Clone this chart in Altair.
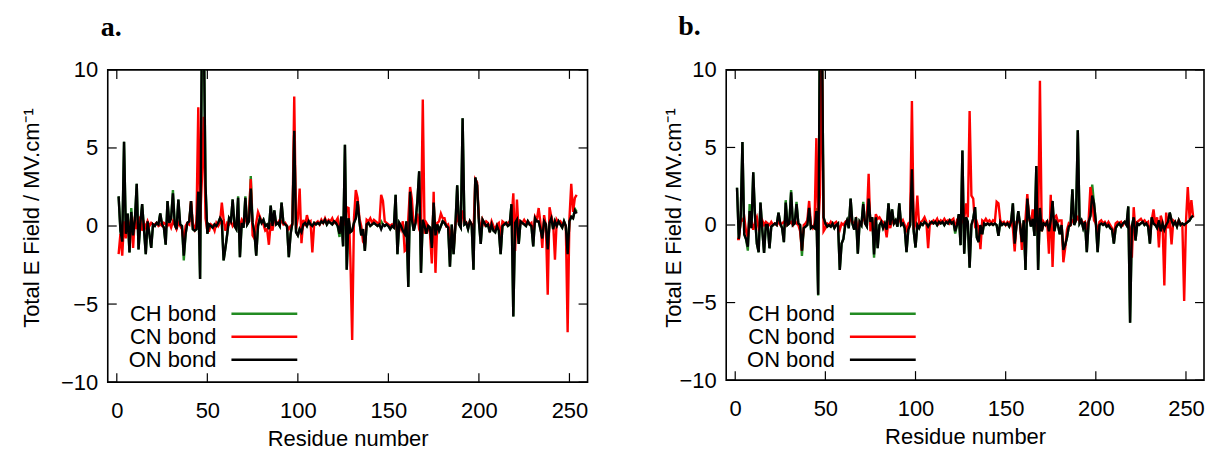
import altair as alt
import pandas as pd

residues = list(range(1, 255))
series_names = ["CH bond", "CN bond", "ON bond"]
series_colors = ["#228B22", "#FF0000", "#000000"]
x_ticks = [0, 50, 100, 150, 200, 250]
y_ticks = [-10, -5, 0, 5, 10]

a_ch = [1.9, -0.3, -1.0, 5.4, -0.5, 0.8, -1.7, 1.15, -0.6, 0.4,
        2.7, -1.5, 0.2, 1.4, -0.2, -1.8, 0.3, -0.5, -1.4, 0.1,
        0.0, 0.2, 0.1, 0.8, 0.1, -0.1, -1.2, 1.6, 0.2, 0.5,
        2.3, 0.1, -0.2, 1.7, 0.1, 0.0, -2.2, -0.5, 0.2, 0.3,
        1.6, -0.2, -0.3, -0.2, 2.2, -3.4, 11.0, 14.0, 2.6, -0.5,
        0.1, 0.0, -0.1, 0.1, 0.0, 0.2, 0.5, 0.3, -2.2, -1.4,
        -0.5, 0.5, 0.3, 1.7, 0.0, -0.2, 1.9, -2.0, 0.2, -0.1,
        1.9, 0.1, 0.3, 3.2, 0.2, -0.4, -1.9, 0.0, 0.5, 0.2,
        0.4, 0.0, 0.1, -0.2, 1.3, 0.0, 1.0, 0.1, 0.2, 0.0,
        1.5, 0.2, 0.1, 0.0, -2.0, -0.5, 0.2, 6.1, -0.4, -0.6,
        -0.2, -0.4, 0.1, 0.2, 0.0, 0.3, 0.1, 0.0, 0.2, 0.1,
        0.2, 0.1, 0.3, 0.2, 0.4, 0.1, 0.3, 0.2, 0.1, 0.3,
        0.2, 0.0, -0.7, 0.6, -1.3, 5.2, -2.8, 0.5, -0.4, -0.3,
        0.2, 0.5, 1.6, 0.3, -0.6, -0.2, -1.6, 0.1, 0.2, 0.0,
        0.1, 0.2, 0.1, 0.0, 0.1, 0.3, 0.1, 0.0, 0.1, 0.0,
        -0.2, 0.0, -0.1, 2.0, -1.8, 0.2, 0.0, -0.3, -0.5, 0.3,
        -3.9, 2.2, 0.4, -0.3, 0.2, 1.6, 3.5, -3.0, 0.4, 0.0,
        -0.5, 0.0, -0.1, -1.4, 1.5, -0.6, 0.1, -0.3, 0.0, 0.3,
        0.2, 0.0, -0.1, -2.6, 0.1, -1.8, 0.0, 2.6, 0.1, -0.1,
        6.9, 0.1, 0.2, -0.2, 0.3, 0.1, -2.8, 3.1, 2.6, 0.3,
        -1.15, 0.4, 0.2, 0.0, 0.1, -0.4, 0.1, -0.3, -0.4, 0.0,
        -0.3, -1.8, 0.0, 0.1, 0.2, 0.0, 0.1, 1.4, -5.8, 0.2,
        0.4, -1.15, 0.3, 0.2, 0.1, 0.0, 0.3, 0.1, 0.0, -1.3,
        0.5, 0.3, 0.3, -0.2, -0.8, 0.3, 0.1, -1.5, 0.2, 0.5,
        -0.2, 0.3, 0.0, 0.3, 0.1, -0.1, 0.3, 0.0, -1.8, 0.3,
        0.6, 0.5, 1.1, 0.9]

a_cn = [-1.8, -0.5, -1.9, 0.3, -0.8, 0.4, -0.4, 0.5, -1.4, 0.6,
        -0.2, 0.3, 0.6, -0.3, 0.2, -0.1, 0.3, 0.0, 0.2, 0.1,
        0.1, 0.2, 0.0, 0.1, 0.0, 0.2, 0.1, 0.0, 0.2, -0.1,
        0.3, 0.1, -0.2, 0.2, 0.0, -0.2, -1.0, 0.0, 0.2, 0.1,
        1.6, 0.1, -0.2, 0.3, 7.6, 0.2, 3.0, 7.0, 0.5, -0.3,
        -0.3, 0.1, 0.0, -0.3, 0.2, 0.0, 0.2, 1.5, 0.4, -0.3,
        0.2, 0.1, 0.3, 0.0, 0.2, 0.1, 0.2, 0.0, 0.4, 0.2,
        0.6, 0.1, 0.8, 3.0, -0.6, -0.8, 0.2, 0.9, 0.6, 0.3,
        0.1, -0.3, -0.2, -1.2, 0.2, -0.3, 0.5, 0.2, 0.2, 0.4,
        0.3, 0.1, 0.2, 0.0, -0.2, 0.0, 0.1, 8.3, -0.2, 0.5,
        2.4, -1.1, 0.4, 0.0, 0.7, 0.2, 0.3, -1.7, 0.1, 0.2,
        0.3, 0.1, 0.4, 0.2, 0.5, 0.2, 0.4, 0.3, 0.5, 0.2,
        0.3, 0.5, -0.4, 0.3, 0.2, 0.1, 1.2, 1.15, -2.0, -7.3,
        0.5, 2.3, 1.8, 0.5, 0.0, -1.0, -1.2, 0.4, 0.3, 0.5,
        0.2, 0.4, 0.3, 0.2, 0.1, 2.0, 1.6, 0.3, 0.2, 0.1,
        0.0, 0.1, 0.0, 0.3, -0.5, 0.2, -0.2, 0.3, -1.6, -1.5,
        0.5, 2.5, 1.7, -0.1, 0.3, 0.8, -0.2, -0.5, 8.1, -0.5,
        0.2, 0.0, -0.5, -2.4, 2.2, -3.0, 0.2, 0.3, 0.8, 0.5,
        0.5, 0.0, 0.1, -0.4, -1.3, -1.4, 0.1, 0.6, 0.2, 0.0,
        1.0, 0.4, 0.2, 0.0, 0.3, 0.1, -0.5, 3.0, 2.8, 0.5,
        -0.3, 0.4, 0.1, 0.3, 0.2, -0.2, 0.3, 0.0, -0.2, 0.1,
        0.2, -0.7, 0.3, 0.2, 0.1, 0.2, 0.3, 0.4, 2.1, -1.6,
        1.7, -0.5, 0.3, 0.2, 0.4, 0.2, 0.3, 0.1, 0.2, -0.6,
        0.6, 0.4, 1.15, 0.2, -1.4, 0.7, 0.0, -4.4, 1.2, 0.6,
        0.2, -2.15, 0.4, 0.2, 0.3, 0.1, 0.2, 0.0, -6.8, 0.5,
        2.7, 0.9, 1.8, 2.0]

a_on = [1.9, -0.3, -1.0, 5.4, -0.5, 0.8, -1.7, 0.9, -0.6, 0.4,
        2.7, -1.5, 0.2, 1.4, -0.2, -1.8, 0.3, -0.5, -1.4, 0.1,
        0.0, 0.2, 0.1, 0.8, 0.1, -0.1, -1.2, 1.6, 0.2, 0.5,
        2.1, 0.1, -0.2, 1.7, 0.1, 0.0, -1.9, -0.5, 0.2, 0.3,
        1.6, -0.2, -0.3, -0.2, 2.2, -3.4, 13.0, 13.0, 2.6, -0.5,
        0.1, 0.0, -0.1, 0.1, 0.0, 0.2, 0.5, 0.3, -2.2, -1.4,
        -0.5, 0.5, 0.3, 1.7, 0.0, -0.2, 1.8, -2.0, 0.2, -0.1,
        1.8, 0.1, 0.3, 2.4, 0.2, -0.4, -1.9, 0.0, 0.5, 0.2,
        0.4, 0.0, 0.1, -0.2, 1.3, 0.0, 1.0, 0.1, 0.2, 0.0,
        1.5, 0.2, 0.1, 0.0, -2.0, -0.5, 0.2, 6.1, -0.4, -0.6,
        -0.2, -0.4, 0.1, 0.2, 0.0, 0.3, 0.1, 0.0, 0.2, 0.1,
        0.2, 0.1, 0.3, 0.2, 0.4, 0.1, 0.3, 0.2, 0.1, 0.3,
        0.2, 0.0, -0.5, 0.6, -1.3, 5.2, -2.8, 0.5, -0.4, -0.3,
        0.2, 0.5, 1.6, 0.3, -0.6, -0.2, -1.6, 0.1, 0.2, 0.0,
        0.1, 0.2, 0.1, 0.0, 0.1, -0.2, 0.1, 0.0, 0.1, 0.0,
        -0.2, 0.0, -0.1, 2.0, -1.8, 0.2, 0.0, -0.3, -0.5, 0.3,
        -3.9, 2.2, 0.4, -0.3, 0.2, 1.6, 3.5, -3.0, 0.4, 0.0,
        -0.5, 0.0, -0.1, -1.4, 1.5, -0.6, 0.1, -0.3, 0.0, 0.3,
        0.2, 0.0, -0.1, -2.6, 0.1, -1.8, 0.0, 2.6, 0.1, -0.1,
        6.9, 0.1, 0.2, -0.2, 0.3, 0.1, -2.8, 3.1, 2.6, 0.3,
        -1.15, 0.4, 0.2, 0.0, 0.1, -0.4, 0.1, -0.3, -0.4, 0.0,
        -0.3, -1.8, 0.0, 0.1, 0.2, 0.0, 0.1, 1.4, -5.8, 0.2,
        0.4, -1.15, 0.3, 0.2, 0.1, 0.0, 0.3, 0.1, 0.0, -1.3,
        0.5, 0.3, 0.3, -0.2, -0.8, 0.3, 0.1, -1.5, 0.2, 0.5,
        -0.2, 0.3, 0.0, 0.3, 0.1, -0.1, 0.3, 0.0, -1.8, 0.3,
        0.6, 0.5, 1.0, 0.8]

b_ch = [2.4, -0.9, 0.3, 5.35, -0.6, -0.9, -1.65, 1.35, -0.2, 3.4,
        0.5, -1.2, -1.75, 1.45, -0.3, -1.8, 0.0, 0.0, -1.5, -0.1,
        0.0, 0.1, 0.0, 0.8, 0.1, -0.2, -1.1, 1.6, 0.0, 0.1,
        2.25, 0.0, 0.1, 1.5, 0.1, 0.0, -2.0, -0.2, -0.1, 0.0,
        1.1, -0.2, -0.1, -0.2, 1.1, -4.55, 14.0, 14.0, 0.5, 0.1,
        -0.1, 0.0, -0.1, 0.1, -0.2, 0.0, 0.1, -2.9, -1.2, -0.9,
        0.0, 0.3, -0.2, 1.7, 0.1, -0.3, 0.5, -1.85, 0.2, 0.0,
        1.5, 0.1, -0.1, 1.8, 0.2, 0.5, -2.1, 0.5, -1.5, 0.0,
        0.2, -0.2, 0.1, -0.3, 1.4, 0.0, 1.0, 0.1, 0.3, -0.1,
        1.4, 0.0, 0.1, -0.2, -1.75, -0.3, 0.0, 3.6, -0.4, -1.45,
        0.0, -0.2, 0.1, 0.0, 0.2, 0.1, -0.1, 0.1, 0.2, 0.1,
        0.2, 0.0, 0.2, 0.1, 0.2, 0.0, 0.2, 0.1, 0.3, 0.1,
        0.2, -0.55, 0.0, 0.7, -1.3, 4.8, -1.85, 0.5, 0.2, -2.75,
        0.0, 0.4, 1.15, -0.8, -1.1, 0.0, -0.6, 0.1, 0.0, 0.1,
        0.0, 0.1, 0.0, 0.1, 0.0, -0.7, 0.2, 0.0, 0.1, 0.0,
        0.1, -0.1, 0.2, 1.4, -1.2, 0.0, 0.9, 0.0, -1.1, 0.3,
        -2.9, 1.7, 0.5, -0.1, 0.4, -0.7, 3.8, -2.9, 1.1, -0.4,
        0.1, 0.0, 0.2, -0.4, 0.3, 1.55, -0.4, 0.2, 0.0, -0.6,
        0.0, -1.6, -1.3, -0.8, -0.1, 0.0, 2.3, 0.0, 0.3, 6.1,
        0.1, 0.3, -0.2, 0.2, -1.75, 0.2, 0.6, 2.6, 1.4, 0.2,
        -1.75, 0.0, 0.1, 0.0, 0.1, -0.1, 0.0, -0.2, -0.3, -1.2,
        -0.2, 0.0, 0.1, -0.1, 0.1, 0.2, 0.0, 1.2, -6.3, -0.1,
        0.5, -1.0, 0.1, 0.0, 0.1, 0.2, 0.0, 0.1, -0.1, -1.2,
        0.5, 0.1, 0.0, -0.2, 0.3, -0.4, 0.1, -0.3, 0.0, 0.2,
        0.8, 0.3, 0.0, 0.2, -0.1, 0.3, 0.0, 0.1, 0.0, 0.1,
        0.2, 0.3, 0.5, 0.6]

b_cn = [-0.9, -0.9, 0.2, 0.3, 0.5, -0.4, -0.8, 0.6, 0.2, -0.3,
        0.2, 0.5, -0.2, 0.1, 0.3, 0.0, 0.2, 0.1, 0.0, 0.2,
        0.0, 0.1, 0.0, 0.2, 0.0, 0.1, 0.2, 0.0, 0.3, 0.1,
        0.2, 0.0, 0.3, 0.1, 0.0, -0.4, -1.65, 0.0, 0.1, 0.3,
        1.55, 0.0, -0.2, 0.1, 5.6, -0.3, 2.0, 12.0, -0.4, -0.2,
        0.1, 0.0, 0.2, 0.0, 0.1, 0.2, 0.0, -0.3, 0.1, 0.0,
        0.2, 0.3, 0.1, 0.5, 0.2, 0.0, 0.3, -0.5, 0.2, 0.1,
        0.6, 0.2, 0.4, 3.3, -0.4, 0.3, -0.5, 0.7, 0.4, 0.5,
        0.3, 0.2, 0.0, -0.8, 0.3, -0.2, 0.4, 0.1, 0.3, 0.2,
        0.4, 0.1, 0.3, 0.0, -0.3, 0.1, 0.2, 8.0, -0.3, 0.1,
        1.9, 0.0, 0.2, 0.3, 0.5, 0.2, -1.5, 0.2, 0.1, 0.3,
        0.2, 0.4, 0.1, 0.3, 0.2, 0.4, 0.2, 0.3, 0.1, 0.3,
        0.4, -0.2, 0.3, 0.2, 0.0, 0.3, 0.4, 1.4, 0.5, 7.35,
        1.9, 1.7, 0.0, 0.2, -0.2, -1.55, 0.3, 0.2, 0.4, 0.2,
        0.3, 0.1, 0.3, 0.2, 1.5, 1.4, 0.3, 0.1, 0.2, 0.0,
        0.2, 0.1, 0.3, -0.2, -1.7, 0.2, 0.3, 0.1, -1.6, 0.0,
        0.4, 2.0, 0.4, 0.1, 1.0, 0.3, 0.1, -0.5, 9.3, -0.4,
        0.2, 0.0, 0.3, -1.85, 1.95, -2.7, 0.5, 0.6, 0.2, 0.3,
        0.3, -2.4, -1.5, -0.3, 0.1, 0.0, 0.3, 0.2, 0.3, 0.5,
        0.2, 0.3, 0.1, 0.2, -0.3, 0.3, 2.45, 1.5, 0.3, 0.1,
        -0.5, 0.2, 0.3, 0.1, 0.2, 0.0, 0.2, 0.0, -0.2, -0.6,
        0.1, 0.2, 0.1, 0.2, 0.0, 0.2, 0.1, 0.3, -0.3, -2.1,
        1.15, -0.4, 0.2, 0.3, 0.4, 0.2, 0.3, 0.1, 0.2, -0.6,
        0.3, 1.0, 0.0, 0.5, -1.45, 0.6, 0.2, -3.9, 0.8, -0.2,
        0.3, -1.25, 0.3, 0.2, 0.0, 0.3, 0.1, 0.0, -4.9, 0.2,
        2.45, 0.4, 1.6, 0.5]

b_on = [2.4, -0.9, 0.3, 5.35, -0.6, -0.9, -1.4, 0.9, -0.2, 3.4,
        0.5, -1.2, -1.75, 1.45, -0.3, -1.8, 0.0, 0.0, -1.5, -0.1,
        0.0, 0.1, 0.0, 0.8, 0.1, -0.2, -1.1, 1.45, 0.0, 0.1,
        2.1, 0.0, 0.1, 1.35, 0.1, 0.0, -1.65, -0.2, -0.1, 0.0,
        1.1, -0.2, -0.1, -0.2, 0.9, -4.5, 14.0, 14.0, 0.5, 0.1,
        -0.1, 0.0, -0.1, 0.1, -0.2, 0.0, 0.1, -2.9, -1.2, -0.9,
        0.0, 0.3, -0.2, 1.7, 0.1, -0.3, 0.5, -1.85, 0.2, 0.0,
        1.35, 0.1, -0.1, 1.7, 0.2, 0.5, -1.9, 0.5, -1.5, 0.0,
        0.2, -0.2, 0.1, -0.3, 1.4, 0.0, 1.0, 0.1, 0.3, -0.1,
        1.4, 0.0, 0.1, -0.2, -1.75, -0.3, 0.0, 3.6, -0.4, -1.45,
        0.0, -0.2, 0.1, 0.0, 0.2, 0.1, -0.1, 0.1, 0.2, 0.1,
        0.2, 0.0, 0.2, 0.1, 0.2, 0.0, 0.2, 0.1, 0.3, 0.1,
        0.2, -0.4, 0.0, 0.7, -1.3, 4.8, -1.85, 0.5, 0.2, -2.75,
        0.0, 0.4, 1.15, -0.8, -1.1, 0.0, -0.6, 0.1, 0.0, 0.1,
        0.0, 0.1, 0.0, 0.1, 0.0, -0.7, 0.2, 0.0, 0.1, 0.0,
        0.1, -0.1, 0.2, 1.4, -1.2, 0.0, 0.9, 0.0, -1.1, 0.3,
        -2.9, 1.7, 0.5, -0.1, 0.4, -0.7, 3.8, -2.9, 1.1, -0.4,
        0.1, 0.0, 0.2, -0.4, 0.3, 1.55, -0.4, 0.2, 0.0, -0.6,
        0.0, -1.6, -1.3, -0.8, -0.1, 0.0, 2.3, 0.0, 0.3, 6.1,
        0.1, 0.3, -0.2, 0.2, -1.75, 0.2, 0.6, 1.9, 1.4, 0.2,
        -1.75, 0.0, 0.1, 0.0, 0.1, -0.1, 0.0, -0.2, -0.3, -1.2,
        -0.2, 0.0, 0.1, -0.1, 0.1, 0.2, 0.0, 1.2, -6.3, -0.1,
        0.5, -1.0, 0.1, 0.0, 0.1, 0.2, 0.0, 0.1, -0.1, -1.2,
        0.5, 0.1, 0.0, -0.2, 0.3, -0.4, 0.1, -0.3, 0.0, 0.2,
        0.8, 0.3, 0.0, 0.2, -0.1, 0.3, 0.0, 0.1, 0.0, 0.1,
        0.2, 0.3, 0.5, 0.6]

FONT = "Liberation Sans"
FS = 22


def panel(ch, cn, on, label, W, H, label_x, label_y, ytitle_x, ytitle_y):
    xs = alt.Scale(domain=[-5, 260], nice=False, zero=False)
    ys = alt.Scale(domain=[-10, 10], nice=False, zero=False)
    xaxis = alt.Axis(
        values=x_ticks, ticks=False, domain=False, grid=False,
        title="Residue number", labelFont=FONT, titleFont=FONT,
        labelFontSize=FS, titleFontSize=FS, titleFontWeight="normal",
        labelColor="black", titleColor="black", labelPadding=18,
        titlePadding=8)
    yaxis = alt.Axis(
        values=y_ticks, ticks=False, domain=False, grid=False,
        title="Total E Field / MV.cm\u207b\u00b9", labelFont=FONT,
        titleFont=FONT, labelFontSize=FS, titleFontSize=FS,
        titleFontWeight="normal", labelColor="black",
        titleColor="black", labelPadding=10,
        titleX=ytitle_x, titleY=ytitle_y)
    layers = []
    for name, color, vals in zip(series_names, series_colors, [ch, cn, on]):
        df = pd.DataFrame({"residue": residues, "value": vals})
        layers.append(alt.Chart(df).mark_line(color=color, strokeWidth=2.4, clip=True)
                      .encode(x=alt.X("residue:Q", scale=xs, axis=xaxis),
                              y=alt.Y("value:Q", scale=ys, axis=yaxis)))

    xt = alt.Chart(pd.DataFrame({"t": x_ticks}))
    yt = alt.Chart(pd.DataFrame({"t": y_ticks}))
    tl = 9
    layers.append(xt.mark_rule(color="black", strokeWidth=1.2).encode(
        x=alt.X("t:Q", scale=xs, axis=xaxis), y=alt.value(H), y2=alt.value(H - tl)))
    layers.append(xt.mark_rule(color="black", strokeWidth=1.2).encode(
        x=alt.X("t:Q", scale=xs, axis=xaxis), y=alt.value(0), y2=alt.value(tl)))
    layers.append(yt.mark_rule(color="black", strokeWidth=1.2).encode(
        y=alt.Y("t:Q", scale=ys, axis=yaxis), x=alt.value(0), x2=alt.value(tl)))
    layers.append(yt.mark_rule(color="black", strokeWidth=1.2).encode(
        y=alt.Y("t:Q", scale=ys, axis=yaxis), x=alt.value(W - tl), x2=alt.value(W)))

    row_y = [244.5, 267.5, 290.5]
    for name, color, ry in zip(series_names, series_colors, row_y):
        ld = alt.Chart(pd.DataFrame({"name": [name]}))
        layers.append(ld.mark_text(align="right", baseline="middle", font=FONT,
                                   fontSize=FS, color="black").encode(
            x=alt.value(109), y=alt.value(ry), text="name:N"))
        layers.append(ld.mark_rule(color=color, strokeWidth=2.5).encode(
            x=alt.value(124), x2=alt.value(190), y=alt.value(ry)))

    lab = alt.Chart(pd.DataFrame({"label": [label]}))
    layers.append(lab.mark_text(align="left", baseline="alphabetic",
                                font="Liberation Serif", fontSize=28,
                                fontWeight="bold", color="black").encode(
        x=alt.value(label_x), y=alt.value(label_y), text="label:N"))

    return alt.layer(*layers).properties(width=W, height=H)


pa = panel(a_ch, a_cn, a_on, "a.", 481, 313, -7, -33.5, -64, 148)
pb = panel(b_ch, b_cn, b_on, "b.", 479, 311, -48, -35, -41, 148)

chart = alt.hconcat(pa, pb, spacing=139, bounds="flush").configure_view(
    stroke="black", strokeWidth=1.6).properties(
    padding={"left": 12, "top": 3.5, "right": 0, "bottom": 0})

chart.save("out.html", embed_options={"renderer": "svg", "actions": False})
